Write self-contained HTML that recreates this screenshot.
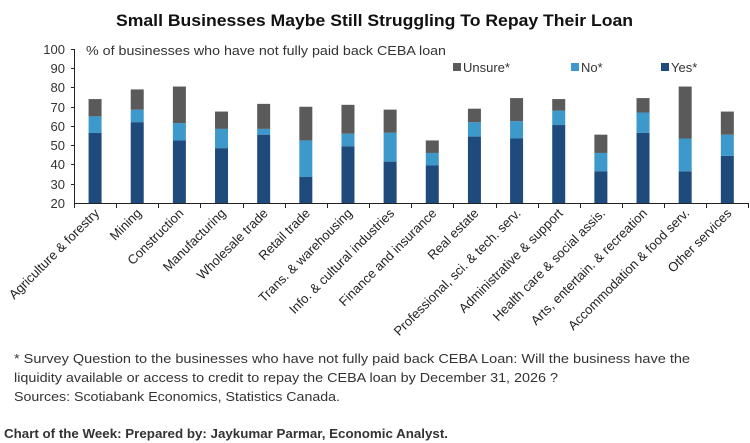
<!DOCTYPE html>
<html><head><meta charset="utf-8"><style>html,body{margin:0;padding:0;background:#fff}svg{display:block}</style></head>
<body>
<svg width="750" height="443" viewBox="0 0 750 443" xmlns="http://www.w3.org/2000/svg" font-family="Liberation Sans, sans-serif">
<text x="116" y="26" font-size="17" font-weight="bold" fill="#111" textLength="517" lengthAdjust="spacingAndGlyphs">Small Businesses Maybe Still Struggling To Repay Their Loan</text>
<g font-size="13" fill="#333" text-anchor="end">
<text x="65" y="54">100</text><text x="65" y="73">90</text><text x="65" y="92">80</text><text x="65" y="112">70</text><text x="65" y="131">60</text><text x="65" y="150">50</text><text x="65" y="169">40</text><text x="65" y="189">30</text><text x="65" y="208">20</text>
</g>
<g stroke="#222" stroke-width="1">
<line x1="74.5" y1="49" x2="74.5" y2="208"/>
<line x1="74" y1="203.5" x2="749" y2="203.5"/>
<g><line x1="71" y1="49.5" x2="74" y2="49.5"/><line x1="71" y1="68.5" x2="74" y2="68.5"/><line x1="71" y1="87.5" x2="74" y2="87.5"/><line x1="71" y1="107.5" x2="74" y2="107.5"/><line x1="71" y1="126.5" x2="74" y2="126.5"/><line x1="71" y1="145.5" x2="74" y2="145.5"/><line x1="71" y1="164.5" x2="74" y2="164.5"/><line x1="71" y1="184.5" x2="74" y2="184.5"/></g>
</g>
<text x="86" y="55" font-size="13" fill="#333" textLength="360" lengthAdjust="spacingAndGlyphs">% of businesses who have not fully paid back CEBA loan</text>
<g font-size="13" fill="#333">
<rect x="453" y="63" width="8" height="8" fill="#5a5a5a"/><text x="463" y="72">Unsure*</text>
<rect x="571" y="63" width="8" height="8" fill="#3d98cc"/><text x="581" y="72">No*</text>
<rect x="661" y="63" width="8" height="8" fill="#1f4a7c"/><text x="671" y="72">Yes*</text>
</g>
<g id="bars"></g>
<g id="ticks" stroke="#222"></g>
<g id="labels" font-size="13" fill="#222" text-anchor="end"></g>
<g font-size="13" fill="#333">
<text x="14" y="363" textLength="676" lengthAdjust="spacingAndGlyphs">* Survey Question to the businesses who have not fully paid back CEBA Loan: Will the business have the</text>
<text x="14" y="382" textLength="544" lengthAdjust="spacingAndGlyphs">liquidity available or access to credit to repay the CEBA loan by December 31, 2026 ?</text>
<text x="14" y="401" textLength="326" lengthAdjust="spacingAndGlyphs">Sources: Scotiabank Economics, Statistics Canada.</text>
</g>
<text x="4" y="438" font-size="13" font-weight="bold" fill="#333" textLength="444" lengthAdjust="spacingAndGlyphs">Chart of the Week: Prepared by: Jaykumar Parmar, Economic Analyst.</text>
<script>
var d=[["Agriculture & forestry",56.5,65,74],["Mining",62,68.5,79],["Construction",52.5,61.5,80.5],["Manufacturing",48.5,58.5,67.5],["Wholesale trade",55.5,58.5,71.5],["Retail trade",33.5,52.5,70],["Trans. & warehousing",49.5,56,71],["Info. & cultural industries",41.5,56.5,68.5],["Finance and insurance",39.5,46,52.5],["Real estate",54.5,62,69],["Professional, sci. & tech. serv.",53.5,62.5,74.5],["Administrative & support",60.5,68,74],["Health care & social assis.",36.5,46,55.5],["Arts, entertain. & recreation",56.5,67,74.5],["Accommodation & food serv.",36.5,53.5,80.5],["Other services",44.5,55.5,67.5]];
var ns="http://www.w3.org/2000/svg";function Y(v){return 203-(v-20)*1.925;}
var b=document.getElementById("bars"),t=document.getElementById("ticks"),l=document.getElementById("labels");
function r(x,y1,y2,c){var e=document.createElementNS(ns,"rect");e.setAttribute("x",x);e.setAttribute("y",Y(y2));e.setAttribute("width",13);e.setAttribute("height",Y(y1)-Y(y2));e.setAttribute("fill",c);b.appendChild(e);}
d.forEach(function(a,i){var cx=74+42.15*(i+0.5);r(cx-6.5,20,a[1],"#1f4a7c");r(cx-6.5,a[1],a[2],"#3d98cc");r(cx-6.5,a[2],a[3],"#5a5a5a");
var k=document.createElementNS(ns,"line");var tx=Math.round(74+42.15*(i+1))+0.5;k.setAttribute("x1",tx);k.setAttribute("x2",tx);k.setAttribute("y1",203);k.setAttribute("y2",208);t.appendChild(k);
var s=document.createElementNS(ns,"text");s.setAttribute("transform","translate("+(cx+5)+",214) rotate(-45)");s.textContent=a[0];l.appendChild(s);});
</script>
</svg>
</body></html>
